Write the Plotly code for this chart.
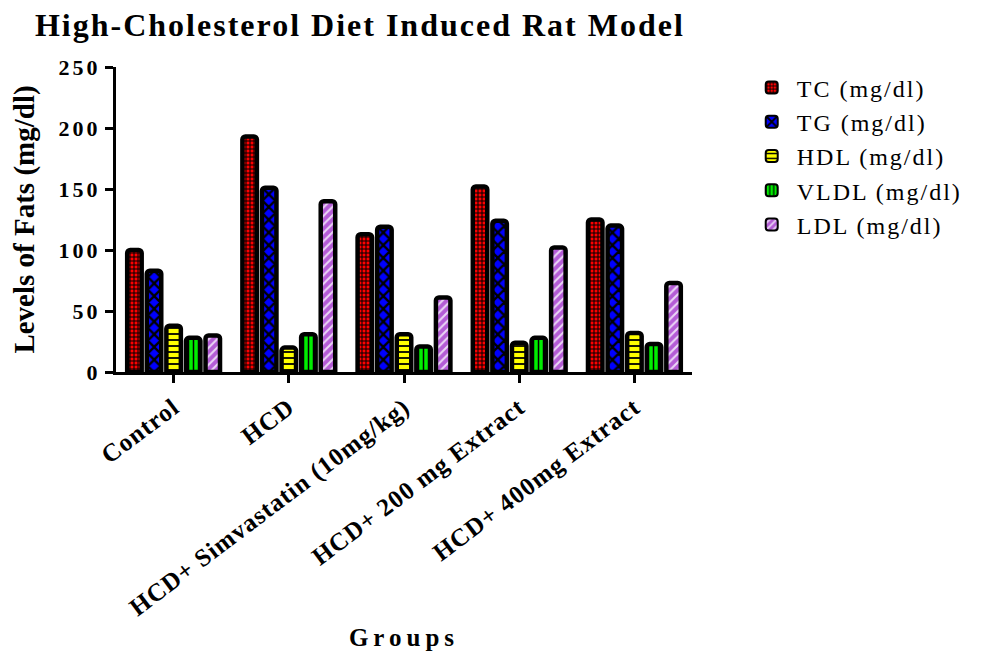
import plotly.graph_objects as go

groups = ["Control", "HCD", "HCD+ Simvastatin (10mg/kg)", "HCD+ 200 mg Extract", "HCD+ 400mg Extract"]
series_names = ["TC (mg/dl)", "TG (mg/dl)", "HDL (mg/dl)", "VLDL (mg/dl)", "LDL (mg/dl)"]
tc = [100, 193, 113, 152, 125]
tg = [83, 151, 119, 124, 120]
hdl = [38, 20, 31, 24, 32]
vldl = [28, 31, 21, 28, 23]
ldl = [30, 140, 61, 102, 73]
y_ticks = [0, 50, 100, 150, 200, 250]

values = [tc, tg, hdl, vldl, ldl]
patterns = [
    dict(shape="+", bgcolor="#ff0000", fgcolor="#000000", size=4, solidity=0.45, fillmode="replace"),
    dict(shape="x", bgcolor="#0000ff", fgcolor="#000000", size=9, solidity=0.45, fillmode="replace"),
    dict(shape="-", bgcolor="#ffff00", fgcolor="#000000", size=6, solidity=0.3, fillmode="replace"),
    dict(shape="|", bgcolor="#00ee00", fgcolor="#000000", size=5, solidity=0.3, fillmode="replace"),
    dict(shape="/", bgcolor="#b45cd6", fgcolor="#ead6f5", size=6, solidity=0.35, fillmode="replace"),
]


def spaced(text, px):
    return f'<span style="letter-spacing:{px}px">{text}</span>'


serif = "Liberation Serif, Times New Roman, serif"
fig = go.Figure()
for i, (name, vals, pat) in enumerate(zip(series_names, values, patterns)):
    fig.add_trace(go.Bar(
        x=groups, y=vals, name=spaced(name, 2), legendgroup=f"g{i}",
        marker=dict(color=pat["bgcolor"], pattern=pat,
                    line=dict(color="black", width=4.5), cornerradius=3),
    ))

fig.update_layout(
    width=974, height=643,
    barmode="group", bargap=0.15, bargroupgap=0.26,
    plot_bgcolor="white", paper_bgcolor="white",
    margin=dict(l=108, r=290, t=59, b=279, autoexpand=False),
    title=dict(text=spaced("High-Cholesterol Diet Induced Rat Model", 2), x=0.0277, xanchor="left",
               xref="container", y=0.9736, yanchor="middle",
               font=dict(family=serif, size=32, color="black", weight="bold")),
    font=dict(family=serif, color="black"),
    legend=dict(x=1.095, y=1.005, xanchor="left", yanchor="top",
                font=dict(family=serif, size=24, color="black"),
                tracegroupgap=0, itemsizing="constant", itemwidth=40),
    xaxis=dict(showline=True, linecolor="black", linewidth=3, ticks="outside",
               ticklen=8, tickwidth=3, tickcolor="black", tickangle=-37,
               tickvals=groups, ticktext=[spaced(g, 1) for g in groups],
               tickfont=dict(family=serif, size=25, color="black", weight="bold"),
               title=dict(text=spaced("Groups", 5), font=dict(family=serif, size=25, color="black", weight="bold"),
                          standoff=8),
               showgrid=False, automargin=False),
    yaxis=dict(range=[0, 250], tickvals=y_ticks, ticktext=[spaced(str(v), 3) for v in y_ticks],
               showline=True, linecolor="black", linewidth=3,
               ticks="outside", ticklen=8, tickwidth=3, tickcolor="black",
               tickfont=dict(family=serif, size=22, color="black", weight="bold"),
               title=dict(text="Levels of Fats (mg/dl)",
                          font=dict(family=serif, size=29, color="black", weight="bold"),
                          standoff=16),
               showgrid=False, zeroline=False, automargin=False),
)

fig.write_html("out.html")
